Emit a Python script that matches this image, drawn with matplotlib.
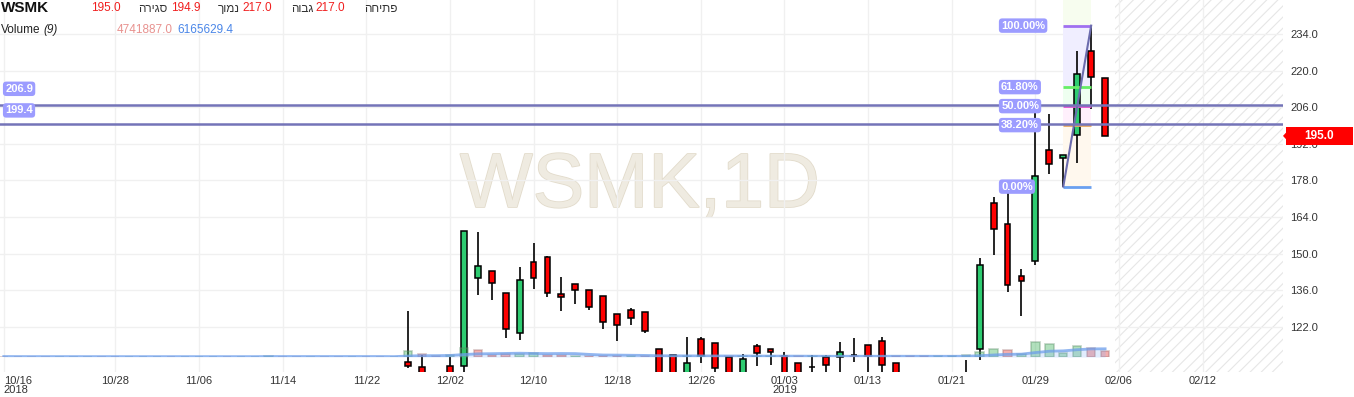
import numpy as np
import pandas as pd
import matplotlib
matplotlib.use("Agg")
import matplotlib.pyplot as plt
import matplotlib.patheffects as pe
from matplotlib.patches import Rectangle, Polygon
from matplotlib.transforms import blended_transform_factory

plt.rcParams['font.family'] = ['Liberation Sans', 'DejaVu Sans']
plt.rcParams['hatch.linewidth'] = 0.8

symbol = "WSMK"
interval = "1D"

# trading days (TASE, Sun-Thu)
dates = ["10/16", "10/17", "10/18", "10/21", "10/22", "10/23", "10/24", "10/25", "10/28", "10/29",
         "10/31", "11/01", "11/04", "11/05", "11/06", "11/07", "11/08", "11/11", "11/12", "11/13",
         "11/14", "11/15", "11/18", "11/19", "11/20", "11/21", "11/22", "11/25", "11/26", "11/27",
         "11/28", "11/29", "12/02", "12/03", "12/04", "12/05", "12/06", "12/09", "12/10", "12/11",
         "12/12", "12/13", "12/16", "12/17", "12/18", "12/19", "12/20", "12/23", "12/24", "12/25",
         "12/26", "12/27", "12/30", "12/31", "01/01", "01/02", "01/03", "01/06", "01/07", "01/08",
         "01/09", "01/10", "01/13", "01/14", "01/15", "01/16", "01/17", "01/20", "01/21", "01/22",
         "01/23", "01/24", "01/27", "01/28", "01/29", "01/30", "01/31", "02/03", "02/04", "02/05"]

opens = [100.5, 100.2, 100.0, 99.8, 99.5, 99.9, 100.1, 100.4, 100.0, 99.7,
         99.9, 100.3, 100.6, 100.2, 100.5, 100.9, 101.2, 100.8, 101.0, 101.5,
         102.0, 101.6, 101.3, 101.5, 101.2, 101.0, 101.3, 101.1, 100.8, 108.4,
         106.7, 103.5, 107.1, 107.1, 140.5, 143.2, 134.8, 119.5, 146.6, 148.6,
         134.4, 138.2, 135.9, 133.6, 126.7, 128.3, 127.5, 113.4, 111.2, 103.0,
         117.2, 115.6, 110.5, 103.0, 114.5, 113.4, 110.8, 108.0, 106.6, 110.3,
         110.3, 111.1, 114.9, 116.4, 108.0, 102.0, 101.5, 101.0, 101.5, 102.5,
         113.4, 169.2, 161.2, 141.3, 147.3, 189.6, 186.4, 195.2, 227.4, 217.0]
highs = [101.2, 100.9, 100.6, 100.4, 100.2, 100.5, 100.8, 101.0, 100.7, 100.3,
         100.6, 101.1, 101.2, 100.8, 101.3, 101.6, 101.8, 101.4, 101.9, 102.4,
         102.3, 102.0, 101.9, 102.1, 101.8, 101.6, 101.9, 101.7, 101.4, 128.0,
         111.2, 104.2, 110.3, 158.5, 158.1, 143.2, 134.8, 144.7, 153.9, 149.1,
         141.1, 138.2, 135.9, 133.6, 126.7, 129.0, 127.5, 113.4, 111.2, 117.9,
         118.2, 115.6, 110.5, 111.4, 115.2, 113.4, 112.2, 108.0, 111.2, 111.2,
         116.0, 117.6, 114.9, 117.9, 108.0, 103.0, 102.5, 102.0, 103.5, 109.3,
         148.2, 171.5, 174.0, 144.0, 204.0, 203.3, 187.6, 227.5, 237.2, 217.0]
lows = [99.8, 99.5, 99.4, 99.0, 98.9, 99.3, 99.6, 99.8, 99.4, 99.1,
        99.2, 99.9, 100.0, 99.6, 100.0, 100.3, 100.6, 100.1, 100.5, 100.9,
        101.2, 100.9, 100.8, 100.9, 100.6, 100.4, 100.7, 100.5, 100.2, 106.3,
        102.5, 102.0, 102.8, 103.5, 134.2, 132.1, 117.6, 116.8, 136.3, 133.2,
        128.1, 130.6, 128.3, 121.0, 116.4, 122.5, 119.5, 101.0, 101.5, 102.0,
        108.0, 104.0, 101.5, 102.0, 107.0, 107.3, 102.5, 101.5, 104.0, 104.0,
        104.0, 108.6, 104.0, 104.0, 101.0, 100.5, 100.5, 100.0, 100.5, 101.5,
        109.3, 149.3, 135.2, 126.2, 145.5, 180.3, 175.6, 184.8, 205.4, 194.9]
closes = [100.2, 100.0, 99.8, 99.5, 99.9, 100.1, 100.4, 100.0, 99.7, 99.9,
          100.3, 100.6, 100.2, 100.5, 100.9, 101.2, 100.8, 101.0, 101.5, 102.0,
          101.6, 101.3, 101.5, 101.2, 101.0, 101.3, 101.1, 100.8, 101.0, 107.0,
          103.5, 103.0, 103.8, 158.5, 145.1, 138.6, 121.0, 139.8, 140.5, 134.8,
          133.2, 135.9, 129.4, 123.7, 122.5, 125.2, 120.2, 102.0, 102.5, 108.0,
          110.8, 106.2, 102.5, 109.5, 111.8, 112.2, 103.5, 102.0, 106.6, 107.2,
          112.2, 111.1, 110.8, 107.2, 102.0, 101.5, 101.0, 101.5, 102.5, 103.5,
          145.5, 159.3, 137.8, 139.4, 179.7, 184.4, 187.6, 218.6, 217.4, 195.0]
volumes = [350000.0, 300000.0, 250000.0, 300000.0, 250000.0, 300000.0, 250000.0, 300000.0, 300000.0, 250000.0,
           300000.0, 250000.0, 300000.0, 300000.0, 250000.0, 300000.0, 250000.0, 300000.0, 300000.0, 900000.0,
           300000.0, 250000.0, 300000.0, 300000.0, 250000.0, 300000.0, 250000.0, 300000.0, 300000.0, 4500000.0,
           2400000.0, 500000.0, 1700000.0, 6400000.0, 5000000.0, 1400000.0, 1900000.0, 1900000.0, 2800000.0, 1400000.0,
           1200000.0, 1000000.0, 1000000.0, 900000.0, 800000.0, 800000.0, 800000.0, 700000.0, 600000.0, 1000000.0,
           800000.0, 700000.0, 600000.0, 700000.0, 500000.0, 500000.0, 500000.0, 500000.0, 500000.0, 500000.0,
           800000.0, 600000.0, 600000.0, 600000.0, 500000.0, 400000.0, 400000.0, 400000.0, 500000.0, 1200000.0,
           4000000.0, 5700000.0, 4900000.0, 1900000.0, 11000000.0, 9500000.0, 2800000.0, 8200000.0, 6748777.6, 4741887.0]

tick_dates = ["10/16", "10/28", "11/06", "11/14", "11/22", "12/02", "12/10", "12/18",
              "12/26", "01/03", "01/13", "01/21", "01/29"]
year_marks = {"10/16": "2018", "01/03": "2019"}
future_labels = ["02/06", "02/12"]
future_offsets = [1, 7]

price_ticks = [122, 136, 150, 164, 178, 192, 206, 220, 234]
hlines = [206.9, 199.4]
hline_label_offsets = [16, 14]

fib_start, fib_end = "01/31", "02/04"
fib_low, fib_high = 175.6, 237.2
fib_ratios = [1.0, 0.618, 0.5, 0.382, 0.0]
fib_line_colors = ['#a070f0', '#66ee66', '#e050d0', '#e8a860', '#6aa0f0']
fib_fill_colors = ['#f0eeff', '#eefff0', '#fff0fc', '#fff8ee']

header_names = ["סגירה", "נמוך", "גבוה", "פתיחה"]

opens = np.array(opens); highs = np.array(highs)
lows = np.array(lows); closes = np.array(closes)
volumes = np.array(volumes)
x = np.arange(len(dates))

W, H = 1354, 397
fig = plt.figure(figsize=(W / 100, H / 100), dpi=100)
ax = fig.add_axes([0, 25 / H, 1283 / W, 372 / H])
xlim = (-0.27, 91.76)
ylim = (104.67, 247.0)
ax.set_xlim(xlim)
ax.set_ylim(ylim)
for s in ax.spines.values():
    s.set_visible(False)

# grid
ax.set_axisbelow(True)
ax.grid(True, color='#f0f0f0', lw=1)

# future hatched area
ax.axvspan(x[-1] + 0.72, xlim[1], facecolor='none', hatch='///', edgecolor='#e6e6e6', lw=0, zorder=0.3)

# watermark
ax.text(0.4988, 0.4435, f"{symbol},{interval}", transform=ax.transAxes, fontsize=55.5,
        color='#efebe1', ha='center', va='baseline', zorder=0.5,
        path_effects=[pe.withStroke(linewidth=1.2, foreground='#e2dbcb')])

# fibonacci retracement
i0, i1 = dates.index(fib_start), dates.index(fib_end)
levels = [fib_low + r * (fib_high - fib_low) for r in fib_ratios]
ax.fill_between([i0, i1], levels[0], ylim[1], color='#f7fdef', lw=0, zorder=1)
for k in range(len(levels) - 1):
    ax.fill_between([i0, i1], levels[k + 1], levels[k], color=fib_fill_colors[k], lw=0, zorder=1)

# candles
up = closes >= opens
ax.vlines(x, lows, highs, color='black', lw=1.2, zorder=3)
ax.bar(x, np.abs(closes - opens), bottom=np.minimum(opens, closes), width=0.42,
       color=np.where(up, '#2ecc71', '#ff0000'), edgecolor='black', lw=1.1, zorder=4)

for k, lv in enumerate(levels):
    ax.hlines(lv, i0, i1, color=fib_line_colors[k], lw=2, zorder=5)
    ax.text(71.54, lv, f"{fib_ratios[k] * 100:.2f}%", color='white', fontweight='bold', fontsize=8,
            ha='left', va='center', zorder=8,
            bbox=dict(boxstyle='round,pad=0.2,rounding_size=0.3', fc='#9c9cff', ec='none'))
ax.plot([i0, i1], [fib_low, fib_high], color='#6c6cae', lw=1.5, zorder=6)

# horizontal lines
for h, off in zip(hlines, hline_label_offsets):
    ax.axhline(h, color='#7474b8', lw=1.8, zorder=6)
    ax.annotate(f"{h:.1f}", xy=(0.1, h), xytext=(0, off), textcoords='offset pixels',
                color='white', fontweight='bold', fontsize=8, ha='left', va='center', zorder=8,
                bbox=dict(boxstyle='round,pad=0.2,rounding_size=0.3', fc='#9c9cff', ec='none'))

# axes ticks
ax.yaxis.tick_right()
ax.set_yticks(price_ticks)
ax.set_yticklabels([f"{v:.1f}" for v in price_ticks])
ax.tick_params(axis='y', length=0, pad=5, labelsize=8, labelcolor='#333333')

tick_pos = [dates.index(d) for d in tick_dates] + [x[-1] + o for o in future_offsets]
tick_lab = [d + ("\n" + year_marks[d] if d in year_marks else "") for d in tick_dates] + future_labels
ax.set_xticks(tick_pos)
ax.set_xticklabels(tick_lab)
ax.tick_params(axis='x', length=0, pad=3, labelsize=8, labelcolor='#333333')
for lab in ax.get_xticklabels():
    lab.set_linespacing(0.85)
ax.get_xticklabels()[0].set_ha('left')

# last price tag
tr = blended_transform_factory(ax.transAxes, ax.transData)
last = closes[-1]
ax.add_patch(Rectangle((1.0023, last - 3.45), 0.0522, 6.9, transform=tr, fc='#ff0000', ec='none',
                       clip_on=False, zorder=10))
ax.add_patch(Polygon([(1.0, last), (1.0028, last + 1.5), (1.0028, last - 1.5)], closed=True,
                     transform=tr, fc='#ff0000', ec='none', clip_on=False, zorder=10))
ax.text(1.0284, last, f"{last:.1f}", transform=tr, ha='center', va='center', color='white',
        fontweight='bold', fontsize=8.5, clip_on=False, zorder=11)

# volume overlay
vax = fig.add_axes([0, (H - 357) / H, 1283 / W, 40 / H])
vax.patch.set_alpha(0)
vax.set_xlim(xlim)
vax.set_ylim(0, 30e6)
vax.axis('off')
vol_up = np.r_[closes[0] >= opens[0], closes[1:] >= closes[:-1]]
vax.bar(x, volumes, width=0.6, color=np.where(vol_up, '#3cb35a', '#e53935'), alpha=0.4,
        edgecolor=np.where(vol_up, '#5f8f6a', '#9f6f6f'), lw=1.2)
ma = pd.Series(volumes).rolling(9, min_periods=1).mean()
vax.fill_between(x, 0, ma, color='#8ab4f8', alpha=0.25, lw=0)
vax.plot(x, ma, color='#6d9eeb', lw=2, alpha=0.75)

# header
def fx(px):
    return px / W

def fy(py):
    return 1 - py / H

fig.text(fx(1), fy(8), symbol, fontsize=11, fontweight='bold', color='#111111', va='center')
header_vals = [closes[-1], lows[-1], highs[-1], opens[-1]]
val_x = [91, 171, 242, 315]
name_x = [138, 218, 291, 364]
for name, val, vx_, nx_ in zip(header_names, header_vals, val_x, name_x):
    fig.text(fx(vx_), fy(8), f"{val:.1f}", fontsize=8.5, color='#f01f1f', va='center')
    fig.text(fx(nx_), fy(9), name[::-1], fontsize=8.5, color='#333333', va='center')

fig.text(fx(1), fy(30), "Volume", fontsize=8.5, color='#222222', va='center')
fig.text(fx(43), fy(30), "(9)", fontsize=8.5, color='#222222', va='center', style='italic')
fig.text(fx(117), fy(30), f"{volumes[-1]:.1f}", fontsize=8.5, color='#e8928f', va='center')
fig.text(fx(177), fy(30), f"{ma.iloc[-1]:.1f}", fontsize=8.5, color='#4a86e8', va='center')

fig.savefig("out.png", dpi=100)
